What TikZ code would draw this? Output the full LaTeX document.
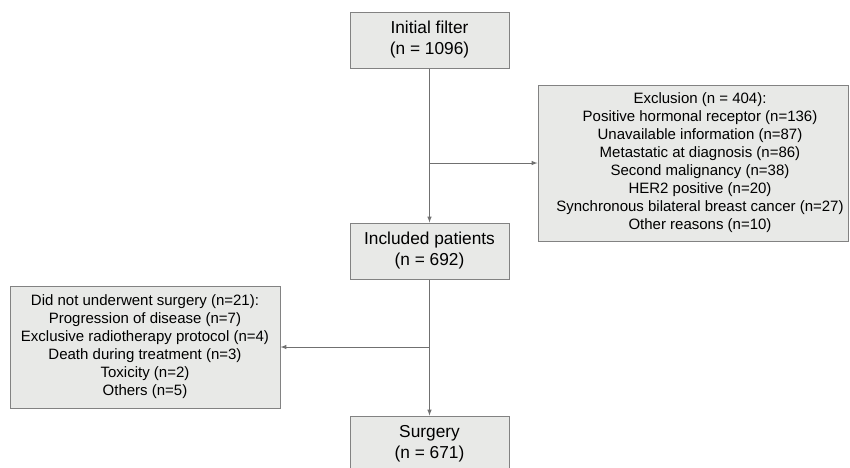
\documentclass[tikz,border=0pt]{standalone}
\usepackage{fontspec}
\setmainfont{Liberation Sans}
\definecolor{boxfill}{RGB}{232,233,231}
\definecolor{boxline}{RGB}{130,130,130}
\definecolor{arrowline}{RGB}{112,112,112}
\begin{document}
\begin{tikzpicture}[x=1pt, y=-1pt,
    box/.style={draw=boxline, fill=boxfill, line width=1pt, align=center, inner sep=0pt,
      minimum width=159pt, minimum height=56pt, font=\fontsize{17.3}{21}\selectfont},
    list/.style={box, font=\fontsize{15}{18}\selectfont},
    flow/.style={draw=arrowline, line width=1pt, -latex}
  ]
  \useasboundingbox (0,0) rectangle (850,467);
  \clip (0,0) rectangle (850,467);
  \node[box] (init) at (429.5,40) {Initial filter\\(n = 1096)};
  \node[list, minimum width=310pt, minimum height=156pt] (excl) at (693,163) {};
  \node[font=\fontsize{15}{18}\selectfont, align=center, inner sep=0pt] (excltext)
    at ([xshift=7pt]excl.center)
    {Exclusion (n = 404):\\Positive hormonal receptor (n=136)\\Unavailable information (n=87)\\
     Metastatic at diagnosis (n=86)\\Second malignancy (n=38)\\HER2 positive (n=20)\\
     Synchronous bilateral breast cancer (n=27)\\Other reasons (n=10)};
  \node[box] (incl) at (429.5,251) {Included patients\\(n = 692)};
  \node[list, minimum width=270pt, minimum height=122pt] (nosurg) at (145,347)
    {Did not underwent surgery (n=21):\\Progression of disease (n=7)\\
     Exclusive radiotherapy protocol (n=4)\\Death during treatment (n=3)\\
     Toxicity (n=2)\\Others (n=5)};
  \node[box] (surg) at (429.5,444) {Surgery\\(n = 671)};
  % branches off the main line
  \coordinate (split1) at (init.south |- excl.west);
  \coordinate (split2) at (incl.south |- nosurg.east);
  \draw[flow] (init) -- (incl);
  \draw[flow] (split1) -- (excl);
  \draw[flow] (incl) -- (surg);
  \draw[flow] (split2) -- (nosurg);
\end{tikzpicture}
\end{document}
